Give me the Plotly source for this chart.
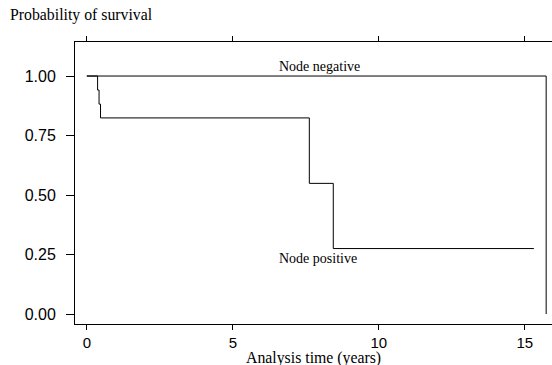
import plotly.graph_objects as go

# Kaplan-Meier estimates
pos_time = [0, 0.37, 0.42, 0.47, 7.62, 8.44, 15.31]
pos_surv = [1.0, 0.941, 0.882, 0.824, 0.549, 0.275, 0.275]
neg_time = [0, 15.73, 15.73]
neg_surv = [1.0, 1.0, 0.0]

x_ticks = [0, 5, 10, 15]
y_ticks = [0.0, 0.25, 0.5, 0.75, 1.0]
y_tick_labels = ["0.00", "0.25", "0.50", "0.75", "1.00"]

serif = "Liberation Serif, Times New Roman, serif"
sans = "Liberation Sans, Arial, sans-serif"

fig = go.Figure()
fig.add_trace(go.Scatter(x=neg_time, y=neg_surv, mode="lines",
                         line=dict(color="black", width=1), showlegend=False))
fig.add_trace(go.Scatter(x=pos_time, y=pos_surv, mode="lines", line_shape="hv",
                         line=dict(color="black", width=1), showlegend=False))

fig.add_annotation(x=7.97, y=1.038, text="Node negative", showarrow=False,
                   font=dict(family=serif, size=14, color="black"))
fig.add_annotation(x=7.9, y=0.235, text="Node positive", showarrow=False,
                   font=dict(family=serif, size=14, color="black"))
fig.add_annotation(x=0.0, y=1.0, xref="paper", yref="paper", xshift=-67, yshift=27,
                   xanchor="left", yanchor="middle", text="Probability of survival",
                   showarrow=False, font=dict(family=serif, size=15.8, color="black"))
fig.add_annotation(x=0.5, y=0, xref="paper", yref="paper", yshift=-34,
                   xanchor="center", yanchor="middle", text="Analysis time (years)",
                   showarrow=False, font=dict(family=serif, size=15.8, color="black"))

fig.update_layout(
    width=552, height=365,
    margin=dict(l=75, r=0, t=42, b=41),
    paper_bgcolor="white", plot_bgcolor="white",
    xaxis=dict(range=[-0.404, 15.93], tickvals=x_ticks, ticks="outside", ticklen=5,
               tickcolor="black", showline=True, linecolor="black", linewidth=1,
               mirror="ticks", showgrid=False, zeroline=False,
               tickfont=dict(family=sans, size=15, color="black")),
    yaxis=dict(range=[-0.042, 1.143], tickvals=y_ticks, ticktext=y_tick_labels,
               ticks="outside", ticklen=8, tickcolor="black", showline=True,
               linecolor="black", linewidth=1, showgrid=False, zeroline=False,
               ticklabelstandoff=7,
               tickfont=dict(family=sans, size=16, color="black")),
)

fig.write_html("out.html", config={"displayModeBar": False},
               post_script="document.body.style.margin='0';document.body.style.overflow='hidden';")
